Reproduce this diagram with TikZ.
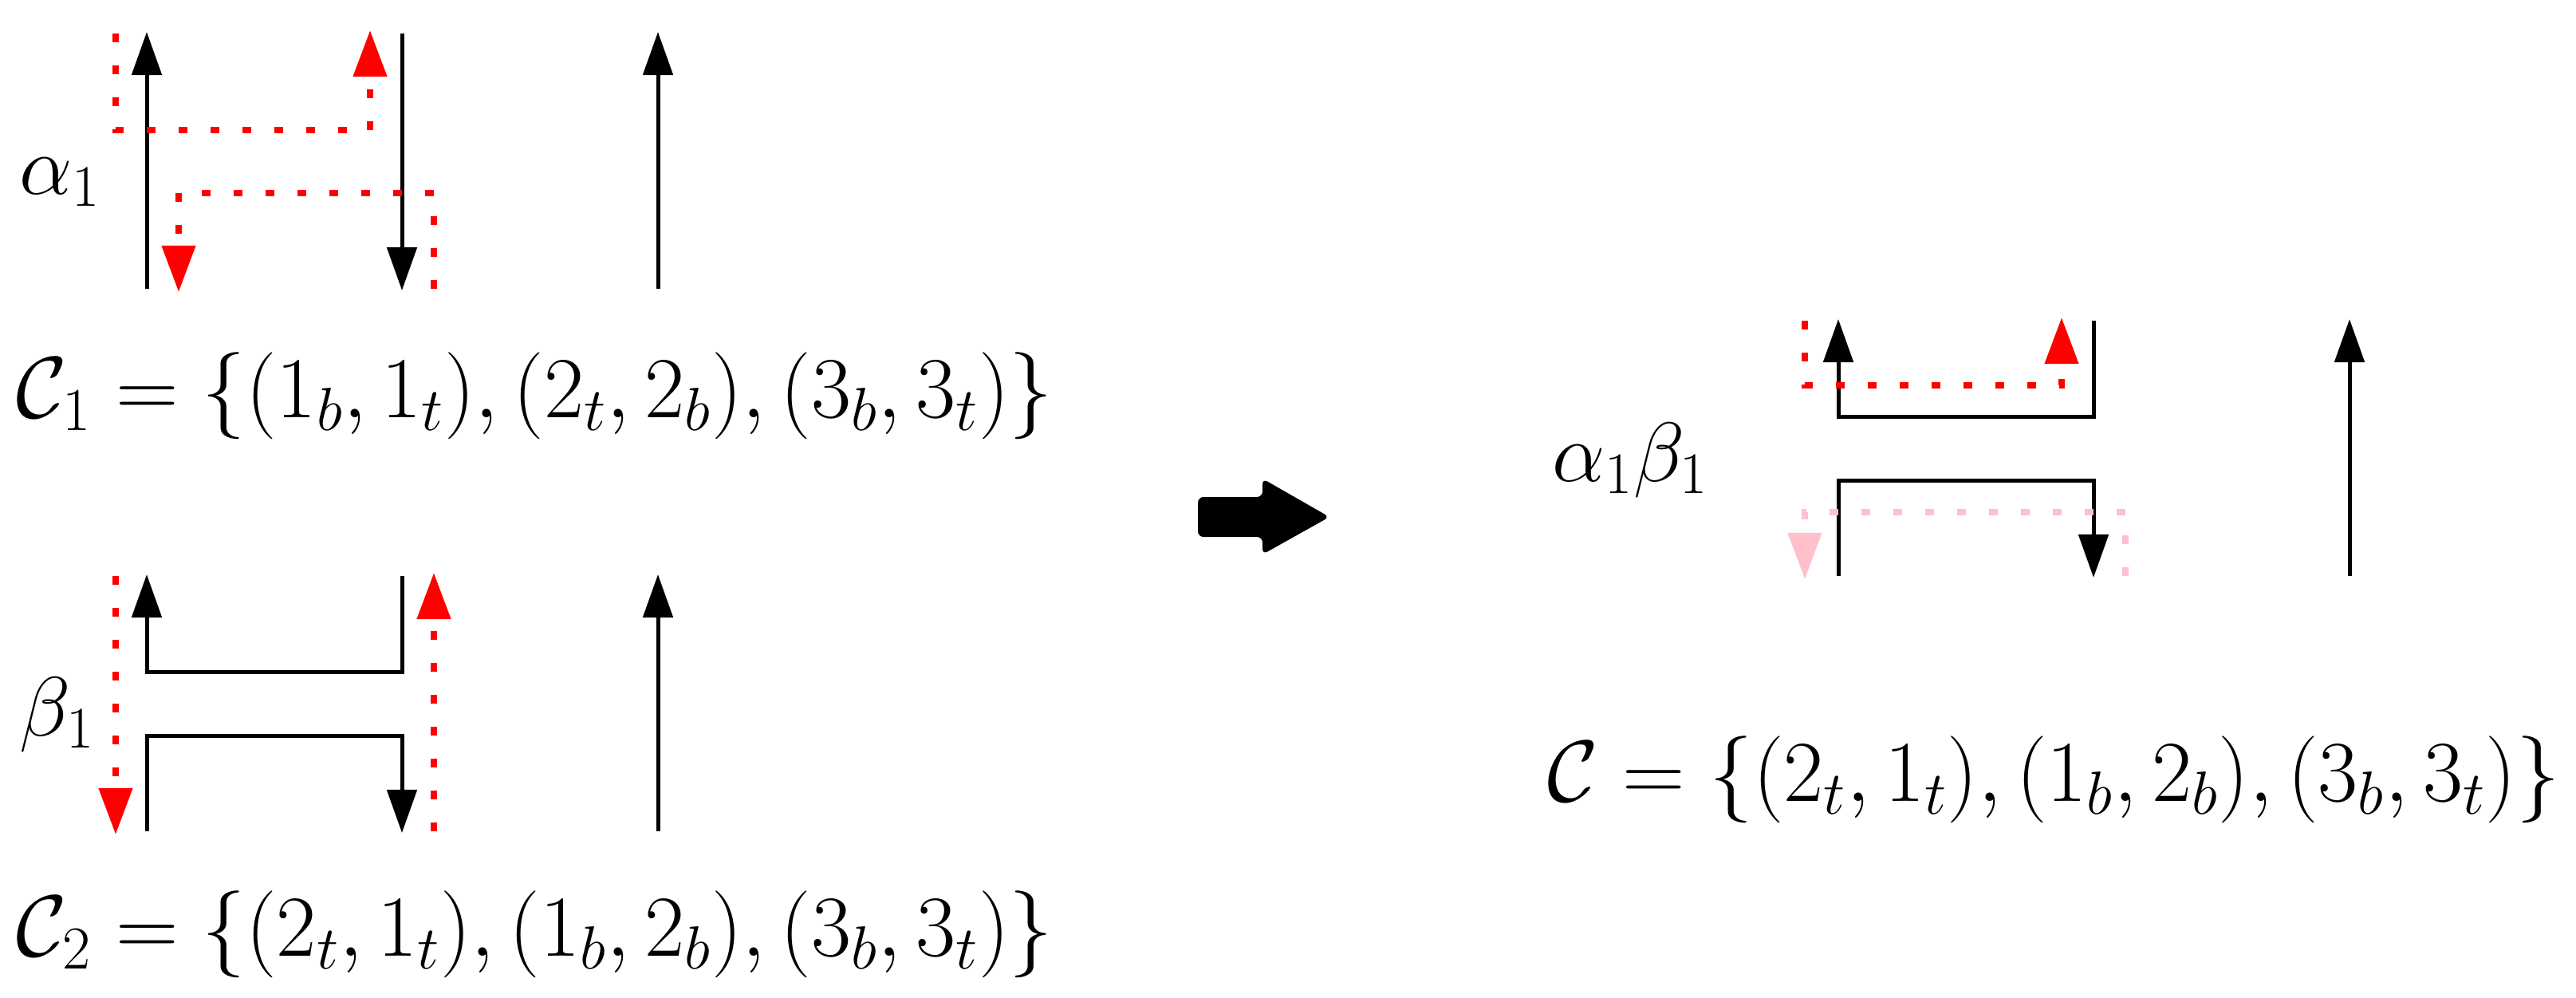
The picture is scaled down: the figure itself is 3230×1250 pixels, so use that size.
\RequirePackage{fix-cm}
\documentclass[tikz,border=0pt]{standalone}
\usetikzlibrary{arrows.meta}
\definecolor{rd}{RGB}{255,0,0}
\definecolor{pk}{RGB}{255,192,203}
\begin{document}
\begin{tikzpicture}[x=0.01cm,y=-0.01cm,
  strand/.style={line width=0.05cm, black},
  barrow/.style={-{Triangle[length=0.54cm,width=0.37cm]}},
  rpath/.style={line width=0.075cm, rd, dash pattern=on 0.11cm off 0.29cm, -{Triangle[length=0.58cm,width=0.41cm]}},
  ppath/.style={rpath, pk},
  lbl/.style={inner sep=0pt, anchor=base west, font=\fontsize{30}{36}\selectfont},
  frm/.style={inner sep=0pt, anchor=base west, font=\fontsize{31}{37}\selectfont}]
\useasboundingbox (0,0) rectangle (3230,1250);
% ---- panel 1 (alpha_1)
\draw[strand, barrow] (184,362) -- (184,40);
\draw[strand, barrow] (504,42) -- (504,364);
\draw[strand, barrow] (825,362) -- (825,40);
\draw[rpath] (145,42) -- (145,163) -- (464,163) -- (464,38);
\draw[rpath] (544,362) -- (544,242) -- (224,242) -- (224,366);
\node[lbl] (a1) at (24,243) {$\alpha_1$};
\node[frm] (c1) at (20,523) {$\mathcal{C}_1 = \{(1_b,1_t),(2_t,2_b),(3_b,3_t)\}$};
% ---- panel 2 (beta_1)
\draw[strand, barrow] (504,722) -- (504,842) -- (184,842) -- (184,720);
\draw[strand, barrow] (184,1042) -- (184,922) -- (504,922) -- (504,1044);
\draw[strand, barrow] (825,1042) -- (825,720);
\draw[rpath] (145,722) -- (145,1046);
\draw[rpath] (544,1042) -- (544,718);
\node[lbl] (b1) at (24,922) {$\beta_1$};
\node[frm] (c2) at (20,1198) {$\mathcal{C}_2 = \{(2_t,1_t),(1_b,2_b),(3_b,3_t)\}$};
% ---- fat arrow
\fill[black, rounded corners=2] (1502,623) -- (1583,623) -- (1583,600) -- (1667,648) -- (1583,695) -- (1583,673) -- (1502,673) -- cycle;
% ---- panel 3 (alpha_1 beta_1)
\draw[strand, barrow] (2625,402) -- (2625,522) -- (2305,522) -- (2305,400);
\draw[strand, barrow] (2305,722) -- (2305,602) -- (2625,602) -- (2625,724);
\draw[strand, barrow] (2946,722) -- (2946,400);
\draw[rpath] (2263,402) -- (2263,483) -- (2585,483) -- (2585,398);
\draw[ppath] (2665,722) -- (2665,642) -- (2263,642) -- (2263,726);
\node[lbl] (ab) at (1946,603) {$\alpha_1\beta_1$};
\node[frm] (c3) at (1940,1004) {$\mathcal{C} = \{(2_t,1_t),(1_b,2_b),(3_b,3_t)\}$};
\end{tikzpicture}
\end{document}
